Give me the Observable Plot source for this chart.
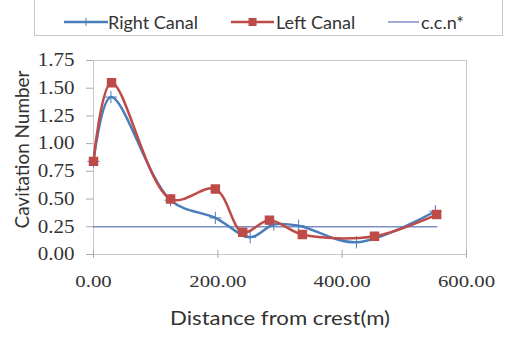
<!DOCTYPE html>
<html><head><meta charset="utf-8">
<script src="https://cdn.jsdelivr.net/npm/d3@7"></script>
<script src="https://cdn.jsdelivr.net/npm/@observablehq/plot@0.6"></script>
<style>
body{margin:0;background:#fff;}
#wrap{position:relative;width:505px;height:337px;}
#legend{position:absolute;left:34px;top:-3px;width:469px;height:39px;border:1px solid #c8c8c8;box-sizing:border-box;font-family:Lato,sans-serif;font-size:18px;color:#333;}
.sw{position:absolute;top:19px;}
.lt{position:absolute;top:14px;line-height:20px;white-space:nowrap;}
</style></head>
<body><div id="wrap"><div id="legend"></div><div id="chart"></div></div>
<script>
const seriesNames = ["Right Canal", "Left Canal", "c.c.n*"];
const distRight = [0, 28, 124, 196, 252, 290, 330, 423, 550];
const cnRight = [0.84, 1.42, 0.49, 0.33, 0.155, 0.27, 0.26, 0.11, 0.39];
const distLeft = [0, 29, 124, 196, 240, 283, 336, 452, 552];
const cnLeft = [0.84, 1.55, 0.50, 0.59, 0.20, 0.31, 0.18, 0.165, 0.36];
const ccnDist = [0, 552];
const ccnValue = [0.25, 0.25];
const xTicks = [0, 200, 400, 600];
const yTicks = [0, 0.25, 0.5, 0.75, 1.0, 1.25, 1.5, 1.75];
const yTitle = "Cavitation Number";
const xTitle = "Distance from crest(m)";

const blue = "#4a7ebb", red = "#be4b48", ccnColor = "#7b8fc4";
const right = distRight.map((d, i) => ({d, v: cnRight[i]}));
const left = distLeft.map((d, i) => ({d, v: cnLeft[i]}));
const ccn = ccnDist.map((d, i) => ({d, v: ccnValue[i]}));

const serif = "Liberation Serif";
const sans = "Lato";

const chart = Plot.plot({
  width: 505, height: 337,
  marginLeft: 93, marginRight: 39, marginTop: 60, marginBottom: 83,
  x: {domain: [0, 600]},
  y: {domain: [0, 1.75]},
  marks: [
    Plot.frame({stroke: "#c8c8c8"}),
    Plot.axisX({ticks: xTicks, tickFormat: d => d.toFixed(2), tickSize: 4, tickPadding: 17, fontSize: 16, color: "#333", stroke: "#aaa", label: null}),
    Plot.axisX({ticks: xTicks, tickSize: -4, text: null, stroke: "#aaa", label: null}),
    Plot.axisY({ticks: yTicks, tickFormat: d => d.toFixed(2), tickSize: 7, tickPadding: 12, fontSize: 18, color: "#333", stroke: "#aaa", label: null}),
    Plot.line(ccn, {x: "d", y: "v", stroke: ccnColor, strokeWidth: 1.5}),
    Plot.line(right, {x: "d", y: "v", stroke: blue, strokeWidth: 2.5, curve: "catmull-rom"}),
    Plot.dot(right, {x: "d", y: "v", symbol: "plus", r: 4, stroke: blue, strokeWidth: 1}),
    Plot.line(left, {x: "d", y: "v", stroke: red, strokeWidth: 2.5, curve: "catmull-rom"}),
    Plot.dot(left, {x: "d", y: "v", symbol: "square", r: 4.5, fill: red, stroke: red}),
    Plot.text([yTitle], {frameAnchor: "left", textAnchor: "middle", dx: -71, dy: -8, rotate: -90, fontSize: 20, fill: "#333"}),
    Plot.text([xTitle], {frameAnchor: "bottom", textAnchor: "middle", dy: 70, fontSize: 19, fill: "#333"})
  ]
});
document.getElementById("chart").appendChild(chart);

function stretchEl(el, family, factor, fixed) {
  el.setAttribute("font-family", family);
  el.style.fontFamily = family;
  const n = el.getComputedTextLength();
  const L = fixed || n * factor;
  const anchor = getComputedStyle(el).textAnchor;
  const target = el.querySelector("tspan") || el;
  const x0 = parseFloat(target.getAttribute("x") || "0");
  let xs = x0;
  if (anchor === "middle") xs = x0 - L / 2;
  else if (anchor === "end") xs = x0 - L;
  [el, target].forEach(t => {
    t.setAttribute("text-anchor", "start");
    t.style.textAnchor = "start";
  });
  target.setAttribute("x", xs);
  target.setAttribute("textLength", L);
  target.setAttribute("lengthAdjust", "spacingAndGlyphs");
}
d3.select(chart).selectAll('g[aria-label="x-axis tick label"] text').each(function() { stretchEl(this, serif, 1.3); });
d3.select(chart).selectAll('g[aria-label="y-axis tick label"] text').each(function() { stretchEl(this, serif, 1.17); });
d3.select(chart).selectAll('text').each(function() {
  if (this.textContent === yTitle) stretchEl(this, sans, 1, 158);
  if (this.textContent === xTitle) stretchEl(this, sans, 1, 220);
});

const legend = document.getElementById("legend");
const items = [
  {name: seriesNames[0], sw: 29, tx: 73, color: blue, marker: "plus", w: 44},
  {name: seriesNames[1], sw: 196, tx: 241, color: red, marker: "square", w: 43},
  {name: seriesNames[2], sw: 353, tx: 386, color: ccnColor, marker: null, w: 31}
];
items.forEach(it => {
  const s = document.createElement("div");
  s.className = "sw";
  s.style.left = it.sw + "px";
  let m = "";
  if (it.marker === "plus") m = `<line x1="${it.w/2}" x2="${it.w/2}" y1="1" y2="9" stroke="${it.color}" stroke-width="1"/>`;
  if (it.marker === "square") m = `<rect x="${it.w/2-4}" y="1" width="8" height="8" fill="${it.color}"/>`;
  s.innerHTML = `<svg width="${it.w}" height="10" style="display:block"><line x1="0" x2="${it.w}" y1="5" y2="5" stroke="${it.color}" stroke-width="${it.marker ? 2.5 : 1.5}"/>${m}</svg>`;
  const t = document.createElement("div");
  t.className = "lt";
  t.style.left = it.tx + "px";
  t.textContent = it.name;
  legend.appendChild(s);
  legend.appendChild(t);
});
</script></body></html>
